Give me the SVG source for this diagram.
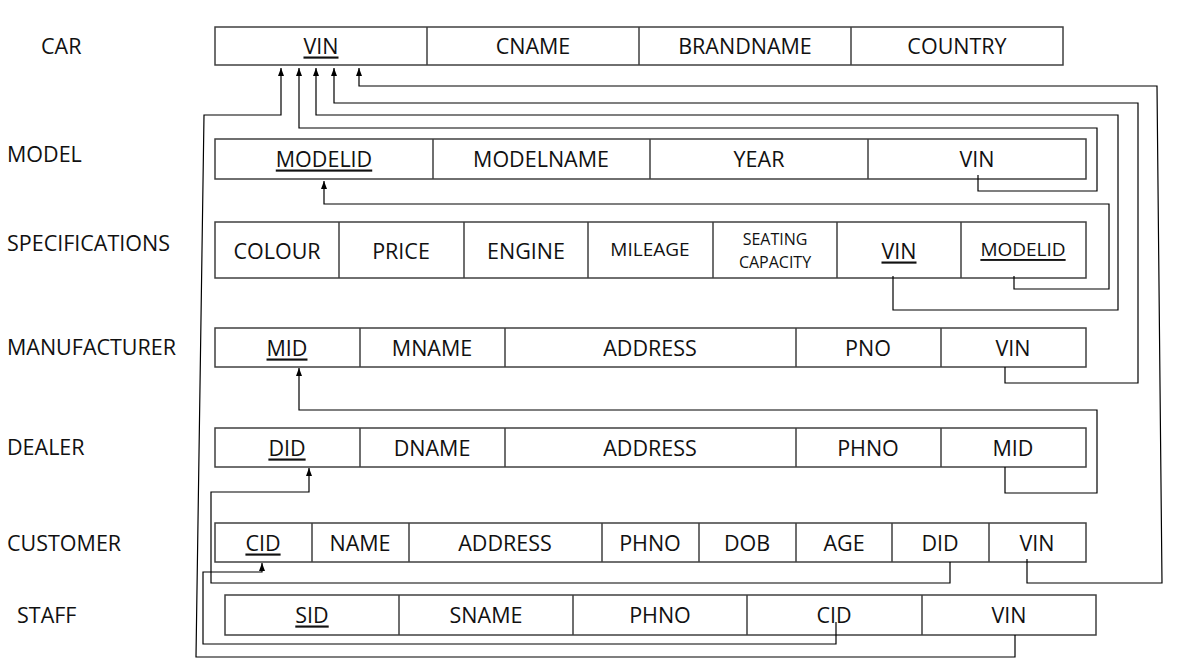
<svg xmlns="http://www.w3.org/2000/svg" width="1179" height="670" viewBox="0 0 1179 670">
  <style>
    .bg { fill: #ffffff; }
    .box { fill: #ffffff; stroke: #404040; stroke-width: 1.5; }
    .div { stroke: #404040; stroke-width: 1.5; }
    .cell { font-family: "Open Sans", "Liberation Sans", sans-serif; font-size: 21.5px; fill: #111; text-anchor: middle; dominant-baseline: central; }
    .sm { font-size: 19px; }
    .xs { font-size: 16px; }
    .key { text-decoration: underline; }
    .title { font-family: "Open Sans", "Liberation Sans", sans-serif; font-size: 21.5px; fill: #111; dominant-baseline: central; }
    .fk { fill: none; stroke: #000; stroke-width: 1.2; }
  </style>
  <defs>
    <marker id="arr" viewBox="0 0 8 8" refX="8" refY="4" markerWidth="8" markerHeight="8" orient="auto" markerUnits="userSpaceOnUse">
      <path d="M0,1 L8,4 L0,7 z" fill="#000"/>
    </marker>
  </defs>
  <rect class="bg" x="0" y="0" width="1179" height="670"/>

  <!-- table names -->
  <g id="labels">
    <text class="title" x="41" y="45">CAR</text>
    <text class="title" x="7" y="153">MODEL</text>
    <text class="title" x="7" y="242">SPECIFICATIONS</text>
    <text class="title" x="7" y="346">MANUFACTURER</text>
    <text class="title" x="7" y="446">DEALER</text>
    <text class="title" x="7" y="542">CUSTOMER</text>
    <text class="title" x="17" y="614">STAFF</text>
  </g>

  <g id="car">
    <rect class="box" x="215" y="27" width="848" height="38"/>
    <path class="div" d="M427,27V65M639,27V65M851,27V65"/>
    <text class="cell key" x="321" y="45">VIN</text>
    <text class="cell" x="533" y="45">CNAME</text>
    <text class="cell" x="745" y="45">BRANDNAME</text>
    <text class="cell" x="957" y="45">COUNTRY</text>
  </g>

  <g id="model">
    <rect class="box" x="215" y="139" width="871" height="40"/>
    <path class="div" d="M433,139V179M650,139V179M868,139V179"/>
    <text class="cell key" x="324" y="158">MODELID</text>
    <text class="cell" x="541" y="158">MODELNAME</text>
    <text class="cell" x="759" y="158">YEAR</text>
    <text class="cell" x="977" y="158">VIN</text>
  </g>

  <g id="specifications">
    <rect class="box" x="215" y="222" width="871" height="56"/>
    <path class="div" d="M339,222V278M464,222V278M588,222V278M713,222V278M837,222V278M961,222V278"/>
    <text class="cell" x="277" y="250">COLOUR</text>
    <text class="cell" x="401" y="250">PRICE</text>
    <text class="cell" x="526" y="250">ENGINE</text>
    <text class="cell sm" x="650" y="249">MILEAGE</text>
    <text class="cell xs" x="775" y="239">SEATING</text>
    <text class="cell xs" x="775" y="262">CAPACITY</text>
    <text class="cell key" x="899" y="250">VIN</text>
    <text class="cell sm key" x="1023" y="249">MODELID</text>
  </g>

  <g id="manufacturer">
    <rect class="box" x="215" y="328" width="871" height="39"/>
    <path class="div" d="M360,328V367M505,328V367M796,328V367M941,328V367"/>
    <text class="cell key" x="287" y="347">MID</text>
    <text class="cell" x="432" y="347">MNAME</text>
    <text class="cell" x="650" y="347">ADDRESS</text>
    <text class="cell" x="868" y="347">PNO</text>
    <text class="cell" x="1013" y="347">VIN</text>
  </g>

  <g id="dealer">
    <rect class="box" x="215" y="428" width="871" height="39"/>
    <path class="div" d="M360,428V467M505,428V467M796,428V467M941,428V467"/>
    <text class="cell key" x="287" y="447">DID</text>
    <text class="cell" x="432" y="447">DNAME</text>
    <text class="cell" x="650" y="447">ADDRESS</text>
    <text class="cell" x="868" y="447">PHNO</text>
    <text class="cell" x="1013" y="447">MID</text>
  </g>

  <g id="customer">
    <rect class="box" x="215" y="523" width="871" height="39"/>
    <path class="div" d="M312,523V562M409,523V562M602,523V562M699,523V562M796,523V562M892,523V562M989,523V562"/>
    <text class="cell key" x="263" y="542">CID</text>
    <text class="cell" x="360" y="542">NAME</text>
    <text class="cell" x="505" y="542">ADDRESS</text>
    <text class="cell" x="650" y="542">PHNO</text>
    <text class="cell" x="747" y="542">DOB</text>
    <text class="cell" x="844" y="542">AGE</text>
    <text class="cell" x="940" y="542">DID</text>
    <text class="cell" x="1037" y="542">VIN</text>
  </g>

  <g id="staff">
    <rect class="box" x="225" y="595" width="871" height="40"/>
    <path class="div" d="M399,595V635M573,595V635M747,595V635M922,595V635"/>
    <text class="cell key" x="312" y="614">SID</text>
    <text class="cell" x="486" y="614">SNAME</text>
    <text class="cell" x="660" y="614">PHNO</text>
    <text class="cell" x="834" y="614">CID</text>
    <text class="cell" x="1009" y="614">VIN</text>
  </g>

  <!-- foreign key references -->
  <g id="connectors">
    <path class="fk" d="M1027,559V583H1162L1157,86H359V68" marker-end="url(#arr)"/>
    <path class="fk" d="M1005,367V383H1138V103H334V68" marker-end="url(#arr)"/>
    <path class="fk" d="M893,276V310H1118V115H316V68" marker-end="url(#arr)"/>
    <path class="fk" d="M978,175V191H1097V128H299V68" marker-end="url(#arr)"/>
    <path class="fk" d="M1015,635V657H196L204,115H281V68" marker-end="url(#arr)"/>
    <path class="fk" d="M1014,276V289H1109V204H324V181" marker-end="url(#arr)"/>
    <path class="fk" d="M1005,467V493H1097V410H299V368" marker-end="url(#arr)"/>
    <path class="fk" d="M950,562V583H211V492H309V468" marker-end="url(#arr)"/>
    <path class="fk" d="M836,622V644H203V572H262V563" marker-end="url(#arr)"/>
  </g>
</svg>
